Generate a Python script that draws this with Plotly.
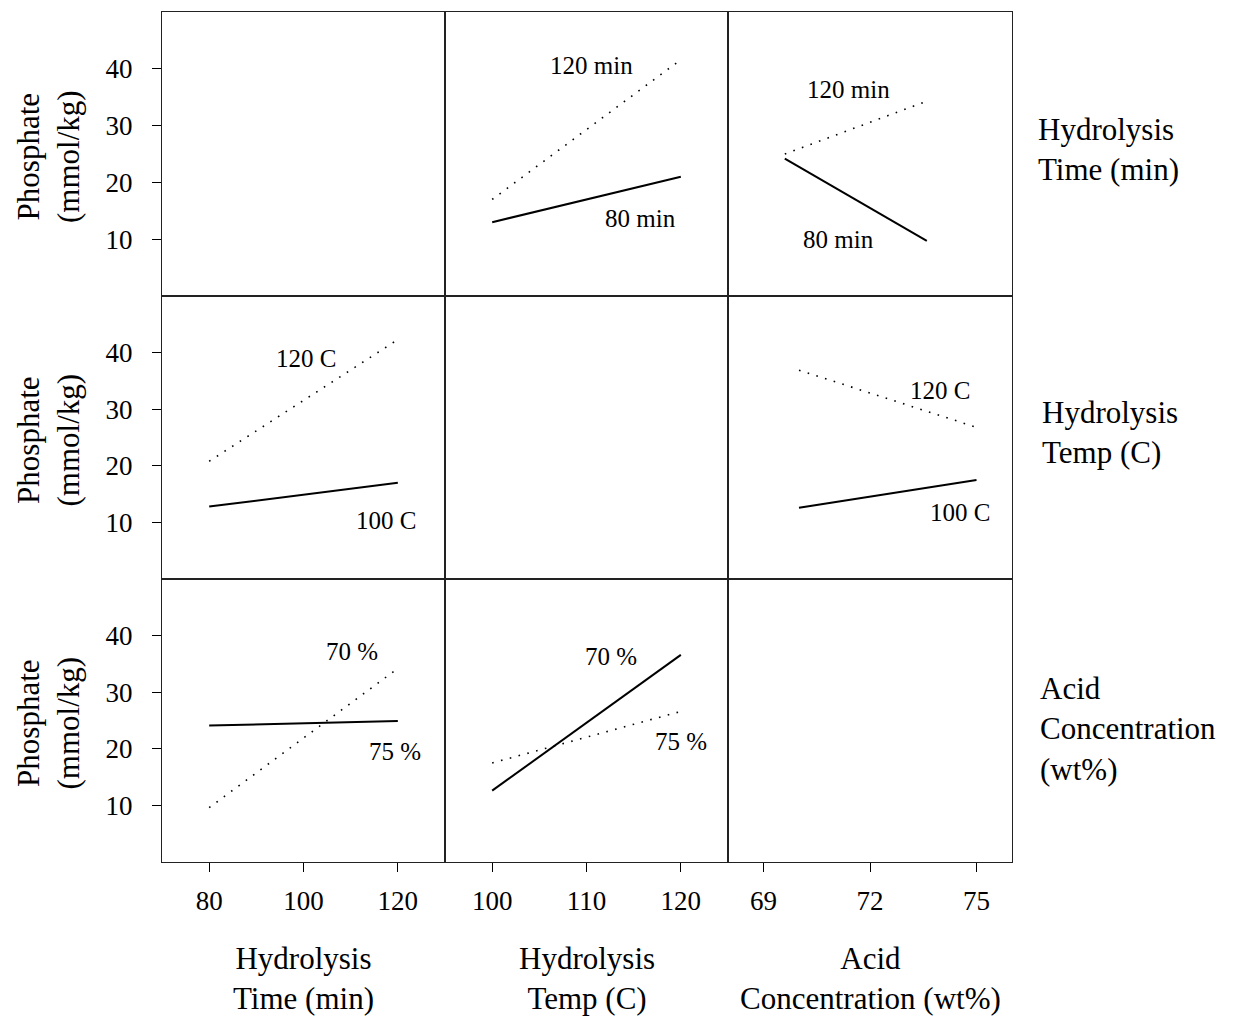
import plotly.graph_objects as go

W, H = 1241, 1017
FONT = "Liberation Serif"

# ---- data ----
time_levels = [80, 120]          # Hydrolysis time (min)
temp_levels = [100, 120]         # Hydrolysis temp (C)
acid_levels = [70, 75]           # Acid concentration (wt%)
acid_levels_r1 = [69.6, 73.6]    # as drawn in top-right panel

# Row 1: lines by hydrolysis time
r1c2_120min = [17.0, 41.6]
r1c2_80min = [13.0, 21.0]
r1c3_120min = [25.0, 34.3]
r1c3_80min = [24.2, 9.7]
# Row 2: lines by hydrolysis temp
r2c1_120C = [20.8, 42.3]
r2c1_100C = [12.8, 17.0]
r2c3_120C = [36.9, 26.8]
r2c3_100C = [12.6, 17.5]
# Row 3: lines by acid concentration
r3c1_70 = [9.6, 34.2]
r3c1_75 = [24.1, 24.9]
r3c2_70 = [12.6, 36.6]
r3c2_75 = [17.5, 26.6]

y_ticks = [10, 20, 30, 40]
x_ranges = [[70, 130], [95, 125], [68, 76]]
x_ticks = [[80, 100, 120], [100, 110, 120], [69, 72, 75]]
x_titles = ["Hydrolysis<br>Time (min)", "Hydrolysis<br>Temp (C)", "Acid<br>Concentration (wt%)"]
row_titles = ["Hydrolysis<br>Time (min)", "Hydrolysis<br>Temp (C)", "Acid<br>Concentration<br>(wt%)"]
y_title = "Phosphate<br>(mmol/kg)"

# (row, col, x, y, dotted)
series = [
    (1, 2, temp_levels, r1c2_120min, True),
    (1, 2, temp_levels, r1c2_80min, False),
    (1, 3, acid_levels_r1, r1c3_120min, True),
    (1, 3, acid_levels_r1, r1c3_80min, False),
    (2, 1, time_levels, r2c1_120C, True),
    (2, 1, time_levels, r2c1_100C, False),
    (2, 3, acid_levels, r2c3_120C, True),
    (2, 3, acid_levels, r2c3_100C, False),
    (3, 1, time_levels, r3c1_70, True),
    (3, 1, time_levels, r3c1_75, False),
    (3, 2, temp_levels, r3c2_70, False),
    (3, 2, temp_levels, r3c2_75, True),
]

# (row, col, text, x, y)
line_labels = [
    (1, 2, "120 min", 110.5, 40.6),
    (1, 2, "80 min", 115.7, 13.7),
    (1, 3, "120 min", 71.4, 36.4),
    (1, 3, "80 min", 71.1, 9.9),
    (2, 1, "120 C", 100.6, 38.9),
    (2, 1, "100 C", 117.4, 10.3),
    (2, 3, "120 C", 73.97, 33.3),
    (2, 3, "100 C", 74.54, 11.8),
    (3, 1, "70 %", 110.2, 37.2),
    (3, 1, "75 %", 119.5, 19.6),
    (3, 2, "70 %", 112.6, 36.3),
    (3, 2, "75 %", 120.0, 21.3),
]

# ---- layout geometry (pixels) ----
col_edges = [162, 445, 728, 1012]
row_edges = [12, 296, 579, 862]
row_title_pos = [(1036, 150), (1040, 433), (1038, 729)]

def px_x(p):
    return p / W

def px_y(p):
    return 1 - p / H

fig = go.Figure()

def idx(r, c):
    return (r - 1) * 3 + c

def axname(k, letter):
    return letter + ("" if k == 1 else str(k))

for (r, c, xs, ys, dotted) in series:
    k = idx(r, c)
    fig.add_trace(go.Scatter(
        x=xs, y=ys, mode="lines",
        xaxis=axname(k, "x"), yaxis=axname(k, "y"),
        line=dict(color="black", width=1.6 if dotted else 2,
                  dash="1.6px,7.5px" if dotted else "solid"),
        showlegend=False, hoverinfo="skip",
    ))

# empty diagonal panels still need an (invisible) trace so their frames are drawn
for (r, c) in [(1, 1), (2, 2), (3, 3)]:
    k = idx(r, c)
    fig.add_trace(go.Scatter(
        x=[None], y=[None], mode="lines",
        xaxis=axname(k, "x"), yaxis=axname(k, "y"),
        showlegend=False, hoverinfo="skip",
    ))

TICK_SIZE = 27
layout = {}
for r in range(1, 4):
    for c in range(1, 4):
        k = idx(r, c)
        xk = "xaxis" + ("" if k == 1 else str(k))
        yk = "yaxis" + ("" if k == 1 else str(k))
        bottom = r == 3
        left = c == 1
        layout[xk] = dict(
            domain=[px_x(col_edges[c - 1]), px_x(col_edges[c])],
            anchor=axname(k, "y"),
            range=x_ranges[c - 1],
            tickvals=x_ticks[c - 1] if bottom else [],
            ticks="outside" if bottom else "",
            ticklen=9, tickwidth=1, tickcolor="black",
            showticklabels=bottom,
            ticklabelstandoff=5,
            tickfont=dict(family=FONT, size=TICK_SIZE, color="black"),
            showgrid=False, zeroline=False,
            showline=True, mirror=True, linecolor="#222", linewidth=1.2,
            fixedrange=True,
        )
        layout[yk] = dict(
            domain=[px_y(row_edges[r]), px_y(row_edges[r - 1])],
            anchor=axname(k, "x"),
            range=[0, 50],
            tickvals=y_ticks if left else [],
            ticks="outside" if left else "",
            ticklen=9, tickwidth=1, tickcolor="black",
            showticklabels=left,
            ticklabelstandoff=14,
            tickfont=dict(family=FONT, size=TICK_SIZE, color="black"),
            showgrid=False, zeroline=False,
            showline=True, mirror=True, linecolor="#222", linewidth=1.2,
            fixedrange=True,
        )

annotations = []
for (r, c, text, x, y) in line_labels:
    k = idx(r, c)
    annotations.append(dict(
        text=text, x=x, y=y, xref=axname(k, "x"), yref=axname(k, "y"),
        showarrow=False, xanchor="center", yanchor="middle",
        font=dict(family=FONT, size=25, color="black"),
    ))

TITLE_SIZE = 31

# bottom axis titles
for c in range(3):
    cx = (col_edges[c] + col_edges[c + 1]) / 2
    annotations.append(dict(
        text=x_titles[c], x=px_x(cx), y=px_y(978), xref="paper", yref="paper",
        showarrow=False, xanchor="center", yanchor="middle", align="center",
        font=dict(family=FONT, size=TITLE_SIZE, color="black"),
    ))

# left y titles and right row titles
for r in range(3):
    cy = (row_edges[r] + row_edges[r + 1]) / 2
    annotations.append(dict(
        text=y_title, x=px_x(48), y=px_y(cy + 3), xref="paper", yref="paper",
        showarrow=False, textangle=-90, xanchor="center", yanchor="middle",
        align="center", font=dict(family=FONT, size=TITLE_SIZE, color="black"),
    ))
    tx, ty = row_title_pos[r]
    annotations.append(dict(
        text=row_titles[r], x=px_x(tx), y=px_y(ty),
        xref="paper", yref="paper",
        showarrow=False, xanchor="left", yanchor="middle", align="left",
        font=dict(family=FONT, size=TITLE_SIZE, color="black"),
    ))

fig.update_layout(
    width=W, height=H,
    margin=dict(l=0, r=0, t=0, b=0),
    paper_bgcolor="white", plot_bgcolor="white",
    annotations=annotations,
    showlegend=False,
    **layout,
)

fig.write_html("out.html", config={"displayModeBar": False})
